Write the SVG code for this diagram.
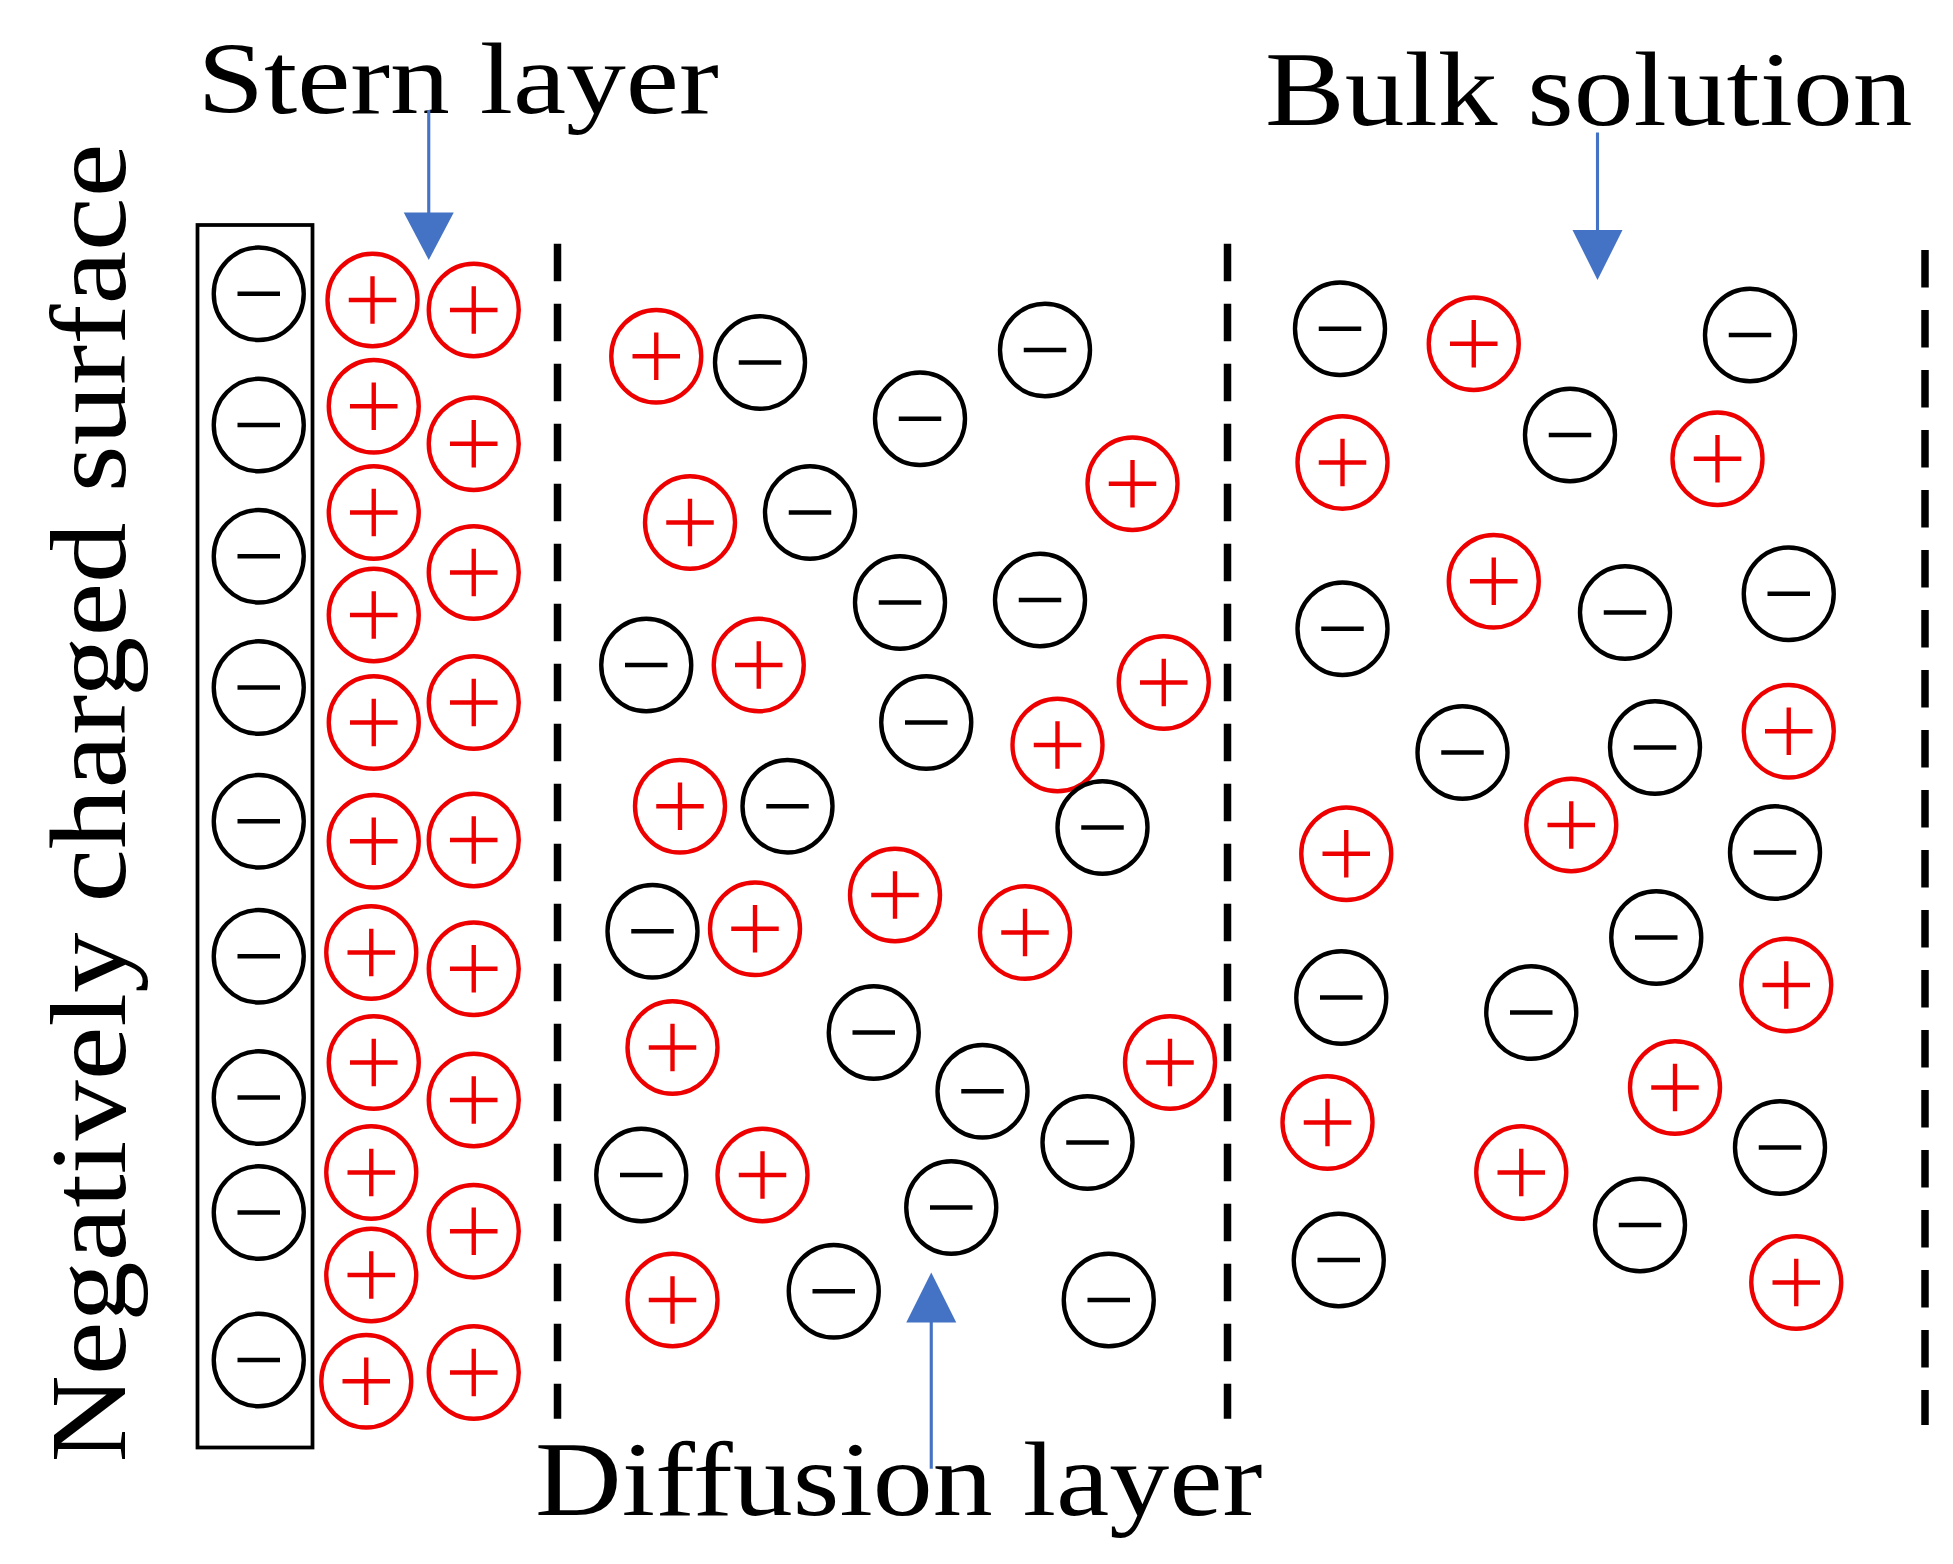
<svg xmlns="http://www.w3.org/2000/svg" xmlns:xlink="http://www.w3.org/1999/xlink" width="1953" height="1564" viewBox="0 0 1953 1564">
<style>
.t{font-family:"Liberation Serif","Times New Roman",serif;fill:#000}
.dash{stroke:#000;stroke-width:6;stroke-dasharray:30 18;fill:none}
.ar{stroke:#4472C4;stroke-width:2.5;fill:none}
.ah{fill:#4472C4}
</style>
<defs>
<g id="neg"><ellipse cx="0" cy="0" rx="36" ry="37" fill="#fff" stroke="#000" stroke-width="3.5"/><line x1="-17" y1="0" x2="17" y2="0" stroke="#000" stroke-width="3.5"/></g>
<g id="pos"><ellipse cx="0" cy="0" rx="36" ry="37" fill="#fff" stroke="#e00" stroke-width="3.5"/><line x1="-19" y1="0" x2="19" y2="0" stroke="#e00" stroke-width="3.5"/><line x1="0" y1="-19" x2="0" y2="19" stroke="#e00" stroke-width="3.5"/></g>
</defs>
<rect width="1953" height="1564" fill="#fff"/>
<g transform="scale(1.25)">
<g id="labels">
<text class="t" x="158" y="90" font-size="82" textLength="417" lengthAdjust="spacingAndGlyphs">Stern layer</text>
<text class="t" x="1012" y="100" font-size="84" textLength="518" lengthAdjust="spacingAndGlyphs">Bulk solution</text>
<text class="t" x="428" y="1212" font-size="84" textLength="582" lengthAdjust="spacingAndGlyphs">Diffusion layer</text>
<text class="t" transform="translate(100,1170) rotate(-90)" font-size="86" textLength="1055" lengthAdjust="spacingAndGlyphs">Negatively charged surface</text>
</g>
<g id="surface"><rect x="158" y="180" width="92" height="978" fill="none" stroke="#000" stroke-width="3"/></g>
<g id="connectors">
<line class="dash" x1="446" y1="195" x2="446" y2="1135"/>
<line class="dash" x1="982" y1="195" x2="982" y2="1135"/>
<line class="dash" x1="1540" y1="200" x2="1540" y2="1140"/>
<line class="ar" x1="343" y1="88" x2="343" y2="180"/><polygon class="ah" points="323,170 363,170 343,208"/>
<line class="ar" x1="1278" y1="106" x2="1278" y2="188"/><polygon class="ah" points="1258,184 1298,184 1278,224"/>
<line class="ar" x1="745" y1="1175" x2="745" y2="1050"/><polygon class="ah" points="725,1058 765,1058 745,1018"/>
</g>
<g id="ions">
<use href="#neg" x="207" y="235"/><use href="#neg" x="207" y="340"/><use href="#neg" x="207" y="445"/><use href="#neg" x="207" y="550"/><use href="#neg" x="207" y="657"/><use href="#neg" x="207" y="765"/><use href="#neg" x="207" y="878"/><use href="#neg" x="207" y="970"/><use href="#neg" x="207" y="1088"/>
<use href="#pos" x="298" y="240"/><use href="#pos" x="299" y="325"/><use href="#pos" x="299" y="410"/><use href="#pos" x="299" y="492"/><use href="#pos" x="299" y="578"/><use href="#pos" x="299" y="673"/><use href="#pos" x="297" y="762"/><use href="#pos" x="299" y="850"/><use href="#pos" x="297" y="938"/><use href="#pos" x="297" y="1020"/><use href="#pos" x="293" y="1105"/>
<use href="#pos" x="379" y="248"/><use href="#pos" x="379" y="355"/><use href="#pos" x="379" y="458"/><use href="#pos" x="379" y="562"/><use href="#pos" x="379" y="672"/><use href="#pos" x="379" y="775"/><use href="#pos" x="379" y="880"/><use href="#pos" x="379" y="985"/><use href="#pos" x="379" y="1098"/>
<use href="#pos" x="525" y="285"/><use href="#neg" x="608" y="290"/><use href="#neg" x="836" y="280"/><use href="#neg" x="736" y="335"/><use href="#pos" x="906" y="387"/><use href="#pos" x="552" y="418"/><use href="#neg" x="648" y="410"/><use href="#neg" x="720" y="482"/><use href="#neg" x="832" y="480"/><use href="#neg" x="517" y="532"/><use href="#pos" x="607" y="532"/><use href="#pos" x="931" y="546"/><use href="#neg" x="741" y="578"/><use href="#pos" x="846" y="596"/><use href="#pos" x="544" y="645"/><use href="#neg" x="630" y="645"/><use href="#neg" x="882" y="662"/><use href="#neg" x="522" y="745"/><use href="#pos" x="604" y="743"/><use href="#pos" x="716" y="716"/><use href="#pos" x="820" y="746"/><use href="#pos" x="538" y="838"/><use href="#neg" x="699" y="826"/><use href="#neg" x="786" y="873"/><use href="#pos" x="936" y="850"/><use href="#neg" x="870" y="914"/><use href="#neg" x="513" y="940"/><use href="#pos" x="610" y="940"/><use href="#neg" x="761" y="966"/><use href="#pos" x="538" y="1040"/><use href="#neg" x="667" y="1033"/><use href="#neg" x="887" y="1040"/>
<use href="#neg" x="1072" y="263"/><use href="#pos" x="1179" y="275"/><use href="#neg" x="1400" y="268"/><use href="#neg" x="1256" y="348"/><use href="#pos" x="1074" y="370"/><use href="#pos" x="1374" y="367"/><use href="#pos" x="1195" y="465"/><use href="#neg" x="1074" y="503"/><use href="#neg" x="1300" y="490"/><use href="#neg" x="1431" y="475"/><use href="#neg" x="1170" y="602"/><use href="#neg" x="1324" y="598"/><use href="#pos" x="1431" y="585"/><use href="#pos" x="1257" y="660"/><use href="#pos" x="1077" y="683"/><use href="#neg" x="1420" y="682"/><use href="#neg" x="1325" y="750"/><use href="#pos" x="1429" y="788"/><use href="#neg" x="1073" y="798"/><use href="#neg" x="1225" y="810"/><use href="#pos" x="1340" y="870"/><use href="#pos" x="1062" y="898"/><use href="#neg" x="1424" y="918"/><use href="#pos" x="1217" y="938"/><use href="#neg" x="1312" y="980"/><use href="#neg" x="1071" y="1008"/><use href="#pos" x="1437" y="1026"/>
</g>
</g>
</svg>
